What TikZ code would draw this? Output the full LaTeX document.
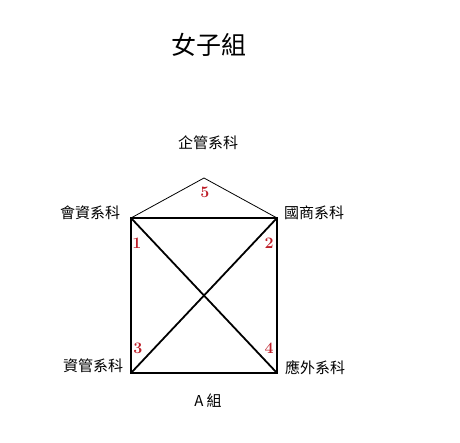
\documentclass[tikz,border=0pt]{standalone}
\usepackage{fontspec}
\newfontfamily\cjk{Noto Sans CJK TC}
\usetikzlibrary{positioning, calc}
\definecolor{numred}{RGB}{190,30,40}
\tikzset{
    % Define style for department labels
    dept/.style={
           font=\cjk\fontsize{15}{15}\selectfont,
           inner sep=0pt},
    % Define style for match numbers
    nummark/.style={
           font=\fontsize{16}{16}\selectfont\bfseries,
           text=numred,
           inner sep=0pt},
    % Define line styles
    side/.style={line width=1.3pt},
    cross/.style={line width=1.8pt},
    roof/.style={line width=0.8pt}
}
\begin{document}
\begin{tikzpicture}[x=1pt, y=-1pt]
	\useasboundingbox (0,0) rectangle (460,442);
	%
	% points
	%
	\coordinate (hk) at (204,178);
	\coordinate (kz) at (131,218);
	\coordinate (gs) at (277,218);
	\coordinate (zg) at (131,373);
	\coordinate (yw) at (277,373);
	%
	% titles and labels
	%
	\node[font=\cjk\fontsize{25}{25}\selectfont, inner sep=0pt] (title) at (209,45) {女子組};
	\node[dept] (qg) at (208,143) {企管系科};
	\node[dept] (hz) at (90,213) {會資系科};
	\node[dept] (gsl) at (314,213) {國商系科};
	\node[dept] (zgl) at (93,366) {資管系科};
	\node[dept] (ywl) at (315,368) {應外系科};
	\node[dept] (grp) at (208,401) {A 組};
	%
	% numbers
	%
	\node[nummark] (n5) at (205,192) {5};
	\node[nummark] (n1) at (137,243) {1};
	\node[nummark] (n2) at (269,243) {2};
	\node[nummark] (n3) at (138,348) {3};
	\node[nummark] (n4) at (269,348) {4};
	%
	% lines
	%
	\draw[roof] (kz) -- (hk) -- (gs);
	\draw[side] (kz) -- (gs) -- (yw) -- (zg) -- cycle;
	\draw[cross] (kz) -- (yw);
	\draw[cross] (gs) -- (zg);
\end{tikzpicture}
\end{document}
